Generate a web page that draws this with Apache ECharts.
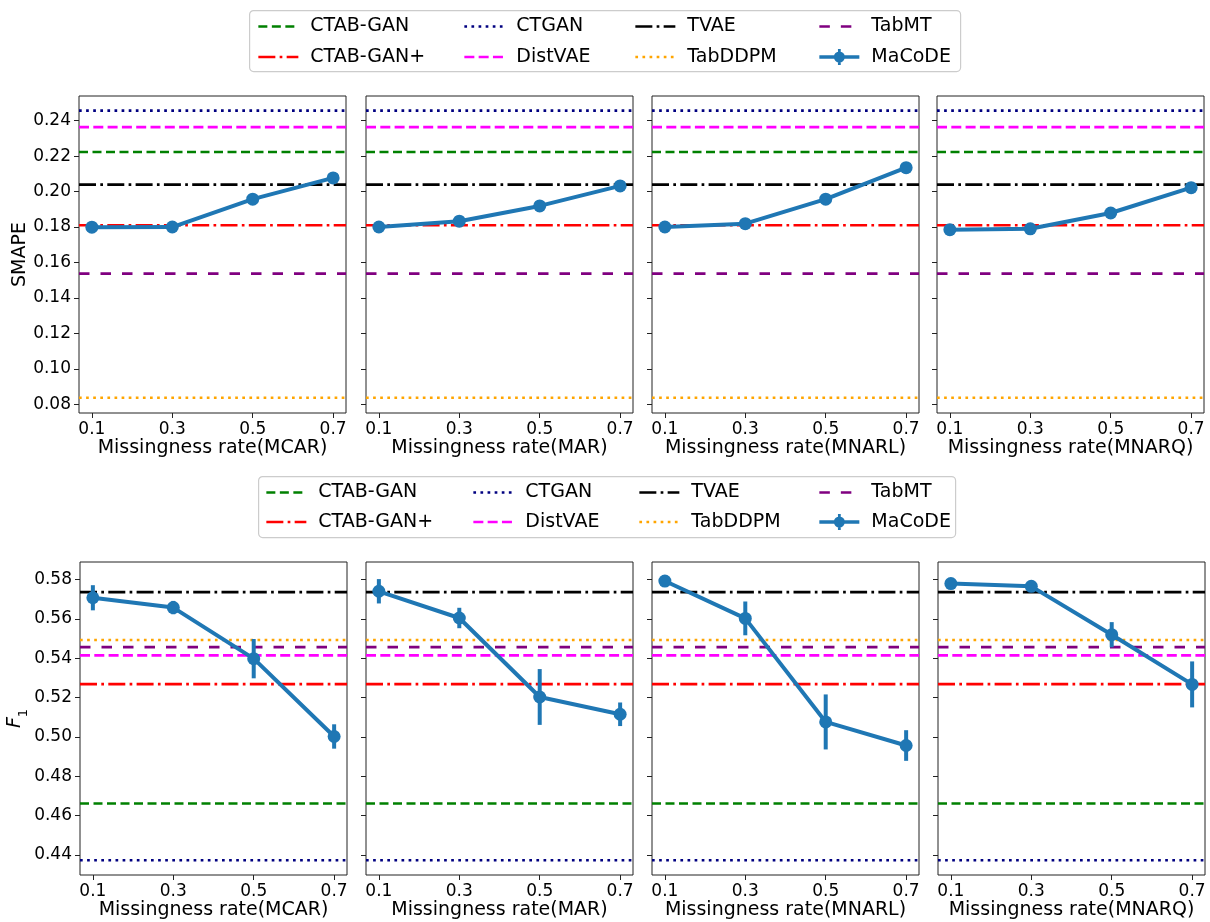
<!DOCTYPE html>
<html>
<head>
<meta charset="utf-8">
<script src="https://cdn.jsdelivr.net/npm/echarts@6/dist/echarts.min.js"></script>
<style>
  html, body { margin: 0; padding: 0; background: #fff; }
  #chart { width: 1210px; height: 922px; }
</style>
</head>
<body>
<div id="chart"></div>
<script>
// ---- data ----
var rates = [0.1, 0.3, 0.5, 0.7];
var mechanisms = ['MCAR', 'MAR', 'MNARL', 'MNARQ'];
var baselineNames = ['CTAB-GAN', 'CTAB-GAN+', 'CTGAN', 'DistVAE', 'TVAE', 'TabDDPM', 'TabMT'];
var smapeBaselines = [0.2223, 0.1810, 0.2456, 0.2363, 0.2039, 0.0837, 0.1537];
var f1Baselines = [0.4661, 0.5268, 0.4372, 0.5415, 0.5737, 0.5493, 0.5457];
var smapeMacode = [
  [0.1799, 0.1800, 0.1957, 0.2077],
  [0.1800, 0.1833, 0.1919, 0.2032],
  [0.1800, 0.1819, 0.1957, 0.2135],
  [0.1785, 0.1790, 0.1879, 0.2022]
];
var smapeErr = [
  [0.0008, 0.0008, 0.0012, 0.0015],
  [0.0008, 0.0010, 0.0010, 0.0012],
  [0.0008, 0.0022, 0.0012, 0.0030],
  [0.0010, 0.0010, 0.0010, 0.0012]
];
var f1Macode = [
  [0.5708, 0.5658, 0.5398, 0.5002],
  [0.5741, 0.5605, 0.5203, 0.5115],
  [0.5793, 0.5603, 0.5076, 0.4956],
  [0.5780, 0.5766, 0.5520, 0.5267]
];
var f1Err = [
  [0.0064, 0.0034, 0.0100, 0.0062],
  [0.0062, 0.0052, 0.0142, 0.0060],
  [0.0010, 0.0086, 0.0140, 0.0078],
  [0.0020, 0.0015, 0.0064, 0.0117]
];
var smapeTicks = [0.08, 0.10, 0.12, 0.14, 0.16, 0.18, 0.20, 0.22, 0.24];
var f1Ticks = [0.44, 0.46, 0.48, 0.50, 0.52, 0.54, 0.56, 0.58];

// ---- styles / layout ----
var FONT = 'DejaVu Sans';
var xMin = 0.068, xMax = 0.732;
var yRange = [[0.0751, 0.2539], [0.4297, 0.5890]];
var baseColors = ['#008000', '#ff0000', '#000080', '#ff00ff', '#000000', '#ffa500', '#800080'];
var baseDash = [[9, 4.5], [17, 4.3, 2.7, 4.3], [2.7, 4.4], [10, 4.3], [17, 4.3, 2.7, 4.3], [2.7, 4.4], [10.5, 11]];
var macodeColor = '#1f77b4';
var gridTop = [96, 562], gridHeight = [317, 313], gridWidth = 267;
var gridLeft = [[79, 366, 652, 937], [80, 366, 652, 938]];

var chart = echarts.init(document.getElementById('chart'));

var grids = [], xAxes = [], yAxes = [], series = [];

for (var r = 0; r < 2; r++) {
  for (var c = 0; c < 4; c++) {
    var idx = r * 4 + c;
    var ticks = r === 0 ? smapeTicks : f1Ticks;
    grids.push({
      left: gridLeft[r][c], top: gridTop[r], width: gridWidth, height: gridHeight[r],
      show: true, borderColor: '#222', borderWidth: 1, backgroundColor: 'transparent'
    });
    xAxes.push({
      type: 'value', gridIndex: idx, min: xMin, max: xMax,
      name: 'Missingness rate(' + mechanisms[c] + ')',
      nameLocation: 'middle', nameGap: 24,
      nameTextStyle: { fontSize: 19, color: '#000', fontFamily: FONT },
      axisLine: { show: false },
      axisTick: { show: true, length: 5, customValues: rates, lineStyle: { color: '#222' } },
      axisLabel: {
        customValues: rates, margin: 8, fontSize: 17, color: '#000', fontFamily: FONT,
        formatter: function (v) { return v.toFixed(1); }
      },
      splitLine: { show: false }
    });
    var yAxis = {
      type: 'value', gridIndex: idx, min: yRange[r][0], max: yRange[r][1],
      axisLine: { show: false },
      axisTick: { show: true, length: 5, customValues: ticks, lineStyle: { color: '#222' } },
      axisLabel: {
        show: c === 0, customValues: ticks, margin: 8, fontSize: 17, color: '#000', fontFamily: FONT,
        formatter: function (v) { return v.toFixed(2); }
      },
      splitLine: { show: false }
    };
    if (c === 0) {
      yAxis.nameLocation = 'middle';
      yAxis.nameRotate = 90;
      if (r === 0) {
        yAxis.name = 'SMAPE';
        yAxis.nameGap = 49;
        yAxis.nameTextStyle = { fontSize: 19, color: '#000', fontFamily: FONT };
      } else {
        yAxis.name = '{f|F}{s|1}';
        yAxis.nameGap = 52;
        yAxis.nameTextStyle = {
          rich: {
            f: { fontSize: 19, fontStyle: 'italic', color: '#000', fontFamily: FONT },
            s: { fontSize: 13, color: '#000', fontFamily: FONT, verticalAlign: 'bottom', padding: [0, 0, -6, 0] }
          }
        };
      }
    }
    yAxes.push(yAxis);

    var baseVals = r === 0 ? smapeBaselines : f1Baselines;
    for (var k = 0; k < baselineNames.length; k++) {
      series.push({
        name: baselineNames[k], type: 'line', xAxisIndex: idx, yAxisIndex: idx,
        data: [[xMin, baseVals[k]], [xMax, baseVals[k]]],
        symbol: 'none', silent: true, z: 2,
        itemStyle: { color: baseColors[k] },
        lineStyle: { color: baseColors[k], width: 2.7, type: baseDash[k] }
      });
    }
    var vals = (r === 0 ? smapeMacode : f1Macode)[c];
    var errs = (r === 0 ? smapeErr : f1Err)[c];
    series.push({
      name: 'MaCoDE err', type: 'custom', xAxisIndex: idx, yAxisIndex: idx, z: 4,
      data: rates.map(function (x, j) { return [x, vals[j], errs[j]]; }),
      encode: { x: 0, y: 1 },
      renderItem: function (params, api) {
        var p1 = api.coord([api.value(0), api.value(1) - api.value(2)]);
        var p2 = api.coord([api.value(0), api.value(1) + api.value(2)]);
        return {
          type: 'line',
          shape: { x1: p1[0], y1: p1[1], x2: p2[0], y2: p2[1] },
          style: { stroke: macodeColor, lineWidth: 4 }
        };
      }
    });
    series.push({
      name: 'MaCoDE', type: 'line', xAxisIndex: idx, yAxisIndex: idx, z: 5,
      data: rates.map(function (x, j) { return [x, vals[j]]; }),
      symbol: 'circle', symbolSize: 13, showSymbol: true,
      itemStyle: { color: macodeColor },
      lineStyle: { color: macodeColor, width: 4 }
    });
  }
}

var macodeIcon = 'path://M0,6.2 L40,6.2 L40,9.8 L0,9.8 Z M18.6,0 L21.4,0 L21.4,16 L18.6,16 Z ' +
  'M14.5,8 A5.5,5.5 0 1,1 25.5,8 A5.5,5.5 0 1,1 14.5,8 Z';

var legendCols = [['CTAB-GAN', 'CTAB-GAN+'], ['CTGAN', 'DistVAE'], ['TVAE', 'TabDDPM'], ['TabMT', 'MaCoDE']];
var legendLeft = [[257, 463, 634, 818], [265, 472, 638, 818]];
var legendTop = [17, 483];
var legendGap = [11.5, 10.5];

var legends = [];
for (var r2 = 0; r2 < 2; r2++) {
  for (var c2 = 0; c2 < 4; c2++) {
    legends.push({
      orient: 'vertical', left: legendLeft[r2][c2], top: legendTop[r2],
      padding: 0, itemGap: legendGap[r2], itemWidth: 40, itemHeight: 16,
      selectedMode: false,
      data: legendCols[c2].map(function (n) {
        return n === 'MaCoDE' ? { name: n, icon: macodeIcon } : { name: n, itemStyle: { opacity: 0 } };
      }),
      lineStyle: { width: 2.7 },
      textStyle: { fontSize: 19, color: '#000', fontFamily: FONT, padding: [0, 0, 0, 7] }
    });
  }
}

option = {
  animation: false,
  backgroundColor: '#fff',
  graphic: [
    { type: 'rect', left: 249, top: 10, shape: { width: 711, height: 61, r: 4 },
      style: { fill: '#fff', stroke: '#cccccc', lineWidth: 1.2 }, z: -1 },
    { type: 'rect', left: 258, top: 476, shape: { width: 697, height: 61, r: 4 },
      style: { fill: '#fff', stroke: '#cccccc', lineWidth: 1.2 }, z: -1 }
  ],
  legend: legends,
  grid: grids,
  xAxis: xAxes,
  yAxis: yAxes,
  series: series
};

chart.setOption(option);
</script>
</body>
</html>
